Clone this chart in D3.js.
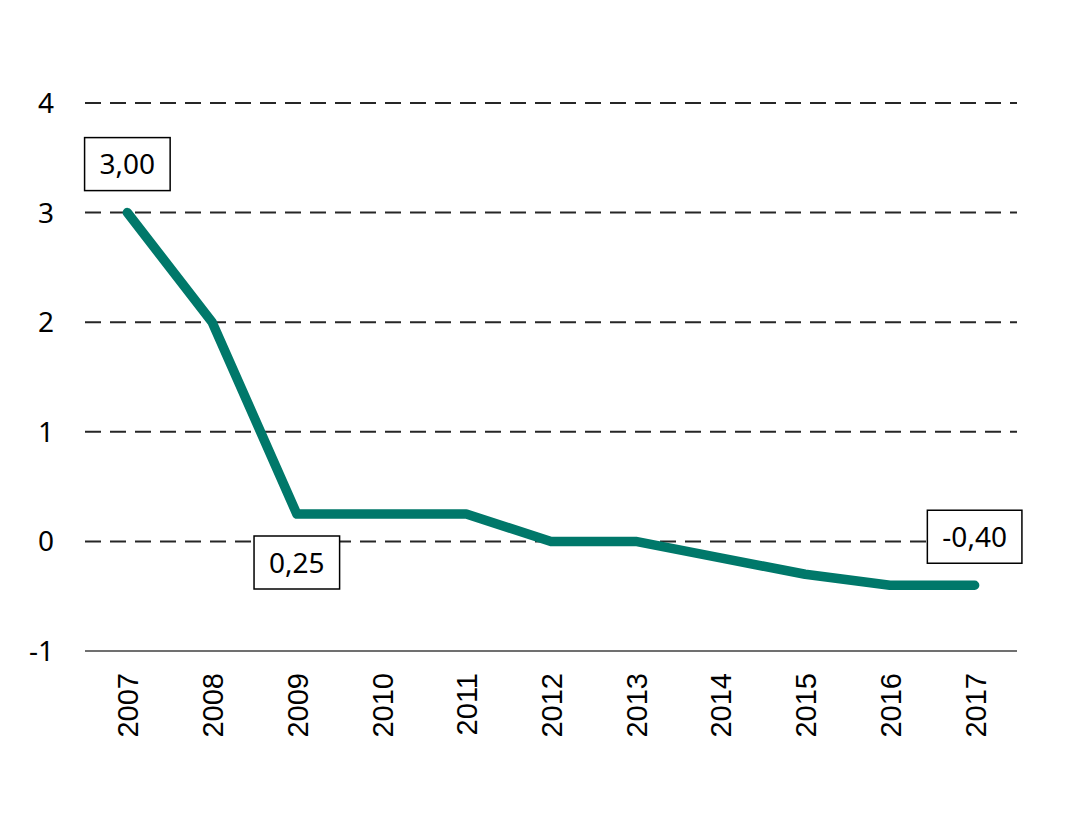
<!DOCTYPE html>
<html>
<head>
<meta charset="utf-8">
<script src="https://cdn.jsdelivr.net/npm/d3@7"></script>
<style>
  body { margin: 0; background: #fff; }
  svg { display: block; }
</style>
</head>
<body>
<div id="chart"></div>
<script>
const years = ["2007", "2008", "2009", "2010", "2011", "2012", "2013", "2014", "2015", "2016", "2017"];
const rates = [3.0, 2.0, 0.25, 0.25, 0.25, 0, 0, -0.15, -0.3, -0.4, -0.4];
const yTicks = [-1, 0, 1, 2, 3, 4];
// which points get a boxed label, and whether it sits above or below
const callouts = [
  { year: "2007", text: "3,00", pos: "above" },
  { year: "2009", text: "0,25", pos: "below" },
  { year: "2017", text: "-0,40", pos: "above" }
];

const width = 1073, height = 826;
const margin = { top: 103, right: 56, bottom: 175, left: 85 };

const svg = d3.select("#chart").append("svg")
  .attr("width", width)
  .attr("height", height);

const x = d3.scaleBand()
  .domain(years)
  .range([margin.left, width - margin.right]);

const y = d3.scaleLinear()
  .domain([-1, 4])
  .range([height - margin.bottom, margin.top]);

const cx = d => x(d) + x.bandwidth() / 2;

// dashed gridlines (not at the bottom, that one is the axis line)
svg.append("g")
  .selectAll("line")
  .data(yTicks.filter(t => t !== -1))
  .enter().append("line")
  .attr("x1", margin.left)
  .attr("x2", width - margin.right)
  .attr("y1", d => y(d))
  .attr("y2", d => y(d))
  .attr("stroke", "#262626")
  .attr("stroke-width", 2)
  .attr("stroke-dasharray", "16,9");

// y labels
svg.append("g")
  .selectAll("text")
  .data(yTicks)
  .enter().append("text")
  .attr("x", 54)
  .attr("y", d => y(d))
  .attr("dy", "0.36em")
  .attr("text-anchor", "end")
  .style("font-family", "'Noto Sans', sans-serif")
  .style("font-size", "28px")
  .attr("fill", "#000")
  .text(d => d);

// x axis line
svg.append("line")
  .attr("x1", margin.left)
  .attr("x2", width - margin.right)
  .attr("y1", y(-1))
  .attr("y2", y(-1))
  .attr("stroke", "#404040")
  .attr("stroke-width", 1.5);

// x labels, rotated
svg.append("g")
  .selectAll("text")
  .data(years)
  .enter().append("text")
  .attr("transform", d => `translate(${cx(d) + 11},${y(-1) + 22}) rotate(-90)`)
  .attr("text-anchor", "end")
  .style("font-family", "'Liberation Sans', Arial, sans-serif")
  .style("font-size", "29px")
  .attr("fill", "#000")
  .text(d => d);

// the line
const line = d3.line()
  .x((d, i) => cx(years[i]))
  .y(d => y(d));

svg.append("path")
  .datum(rates)
  .attr("d", line)
  .attr("fill", "none")
  .attr("stroke", "#00786A")
  .attr("stroke-width", 9.5)
  .attr("stroke-linecap", "round")
  .attr("stroke-linejoin", "round");

// boxed value labels
const boxH = 53, gap = 22;
callouts.forEach(c => {
  const i = years.indexOf(c.year);
  const px = cx(c.year), py = y(rates[i]);
  const top = c.pos === "above" ? py - gap - boxH : py + gap;
  const g = svg.append("g");
  const rect = g.append("rect")
    .attr("fill", "#fff")
    .attr("stroke", "#000")
    .attr("stroke-width", 1.5);
  const t = g.append("text")
    .attr("x", px)
    .attr("y", top + boxH / 2)
    .attr("dy", "0.36em")
    .attr("text-anchor", "middle")
    .style("font-family", "'Noto Sans', sans-serif")
    .style("font-size", "28px")
    .attr("fill", "#000")
    .text(c.text);
  const w = t.node().getBBox().width + 30;
  rect.attr("x", px - w / 2)
    .attr("y", top)
    .attr("width", w)
    .attr("height", boxH);
});
</script>
</body>
</html>
